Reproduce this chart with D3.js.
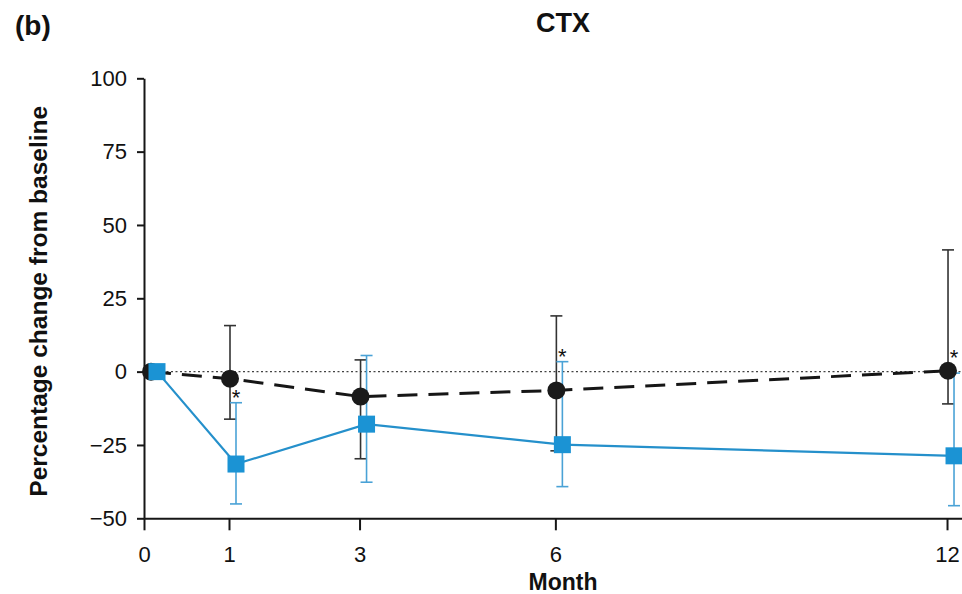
<!DOCTYPE html>
<html>
<head>
<meta charset="utf-8">
<script src="https://cdn.jsdelivr.net/npm/d3@7/dist/d3.min.js"></script>
<style>
  html, body { margin: 0; padding: 0; background: #fff; }
  svg { display: block; font-family: "Liberation Sans", Arial, Helvetica, sans-serif; }
</style>
</head>
<body>
<svg id="chart" width="962" height="594"></svg>
<script>
// Months of follow-up and axis ticks
const months = [0, 1, 3, 6, 12];
const monthTicks = [0, 1, 3, 6, 12];
const yTicks = [-50, -25, 0, 25, 50, 75, 100];

// Black circles (dashed line): mean and error-bar ends, % change from baseline
const circleMean  = [0, -2.4, -8.5, -6.4, 0.3];
const circleUpper = [0, 15.7, 4.0, 19.0, 41.5];
const circleLower = [0, -16.2, -29.7, -27.0, -11.0];

// Blue squares (solid line): mean and error-bar ends, % change from baseline
const squareMean  = [0, -31.5, -17.9, -24.9, -28.7];
const squareUpper = [0, -10.6, 5.5, 3.4, -0.5];
const squareLower = [0, -45.1, -37.7, -39.2, -45.7];

// Visits flagged with an asterisk
const significant = [false, true, false, true, true];

const svg = d3.select("#chart");

// Layout
const axisX = 144, topY = 78.3, bottomY = 518.3;
const BLUE = "#1b93d4", BLUE_LINE = "#2590cb", BLUE_BAR = "#4aa2d6";
const INK = "#161616";
const circleR = 9, squareSize = 17;
const circleDodge = 1, squareDodge = 7, baselineInset = 6;

// Month axis: the first month gets a wider interval, later months share one spacing
const x = d3.scaleLinear().domain([0, 1, 12.3]).range([axisX, 229, 966.6]);
const y = d3.scaleLinear().domain([-50, 100]).range([bottomY, topY]);

const px = (m, dodge) => x(m) + dodge + (m === 0 ? baselineInset : 0);

const circles = months.map((m, i) => ({ m, i, mean: circleMean[i], hi: circleUpper[i], lo: circleLower[i] }));
const squares = months.map((m, i) => ({ m, i, mean: squareMean[i], hi: squareUpper[i], lo: squareLower[i] }));

// Axes
const yAxis = d3.axisLeft(y).tickValues(yTicks).tickSize(7).tickPadding(10).tickSizeOuter(0);
const xAxis = d3.axisBottom(x).tickValues(monthTicks).tickSize(12).tickPadding(16).tickSizeOuter(0);

const gy = svg.append("g").attr("transform", `translate(${axisX},0)`).call(yAxis);
const gx = svg.append("g").attr("transform", `translate(0,${bottomY})`).call(xAxis);
[gy, gx].forEach(g => {
  g.selectAll("path, line").attr("stroke", INK).attr("stroke-width", 2);
  g.selectAll("text").attr("fill", "#111").attr("font-size", 22).attr("font-family", null);
});

// Zero reference line
svg.append("line")
  .attr("x1", x(0)).attr("x2", x(12.3))
  .attr("y1", y(0)).attr("y2", y(0))
  .attr("stroke", "#444").attr("stroke-width", 1.3).attr("stroke-dasharray", "2,2.5");

// Error bars
function errorBars(data, dodge, color, width) {
  const g = svg.append("g").attr("stroke", color).attr("stroke-width", width).attr("fill", "none");
  data.filter(d => d.hi !== d.lo).forEach(d => {
    const cx = px(d.m, dodge);
    g.append("line").attr("x1", cx).attr("x2", cx).attr("y1", y(d.hi)).attr("y2", y(d.lo));
    [d.hi, d.lo].forEach(v => {
      g.append("line").attr("x1", cx - 6).attr("x2", cx + 6).attr("y1", y(v)).attr("y2", y(v));
    });
  });
}
errorBars(circles, circleDodge, "#333", 1.6);
errorBars(squares, squareDodge, BLUE_BAR, 1.6);

// Connecting lines
svg.append("path")
  .datum(circles)
  .attr("d", d3.line().x(d => px(d.m, circleDodge)).y(d => y(d.mean)))
  .attr("fill", "none").attr("stroke", INK).attr("stroke-width", 3)
  .attr("stroke-dasharray", "20,11");

svg.append("path")
  .datum(squares)
  .attr("d", d3.line().x(d => px(d.m, squareDodge)).y(d => y(d.mean)))
  .attr("fill", "none").attr("stroke", BLUE_LINE).attr("stroke-width", 2.2);

// Markers
svg.append("g").selectAll("circle").data(circles).join("circle")
  .attr("cx", d => px(d.m, circleDodge)).attr("cy", d => y(d.mean)).attr("r", circleR)
  .attr("fill", "#1a1a1a");

svg.append("g").selectAll("rect").data(squares).join("rect")
  .attr("x", d => px(d.m, squareDodge) - squareSize / 2)
  .attr("y", d => y(d.mean) - squareSize / 2)
  .attr("width", squareSize).attr("height", squareSize)
  .attr("fill", BLUE);

// Asterisks: above the blue upper cap, or above the circle when the cap hides behind it
svg.append("g").selectAll("text").data(squares.filter(d => significant[d.i])).join("text")
  .attr("x", d => px(d.m, squareDodge))
  .attr("y", d => {
    const capY = y(d.hi), dotY = y(circleMean[d.i]);
    const centre = Math.abs(capY - dotY) < circleR + 8 ? dotY - circleR - 8 : capY - 9;
    return centre + 11;
  })
  .attr("text-anchor", "middle").attr("font-size", 22).attr("fill", "#111")
  .text("*");

// Titles
svg.append("text").attr("x", 15).attr("y", 35)
  .attr("font-size", 28).attr("font-weight", "bold").attr("fill", "#111").text("(b)");

svg.append("text").attr("x", 563).attr("y", 32).attr("text-anchor", "middle")
  .attr("font-size", 27).attr("font-weight", "bold").attr("fill", "#111").text("CTX");

svg.append("text").attr("x", 563).attr("y", 590).attr("text-anchor", "middle")
  .attr("font-size", 23).attr("font-weight", "bold").attr("fill", "#111").text("Month");

svg.append("text")
  .attr("transform", `translate(47,${(topY + bottomY) / 2 + 3}) rotate(-90)`)
  .attr("text-anchor", "middle")
  .attr("font-size", 24.5).attr("font-weight", "bold").attr("fill", "#111")
  .text("Percentage change from baseline");
</script>
</body>
</html>
